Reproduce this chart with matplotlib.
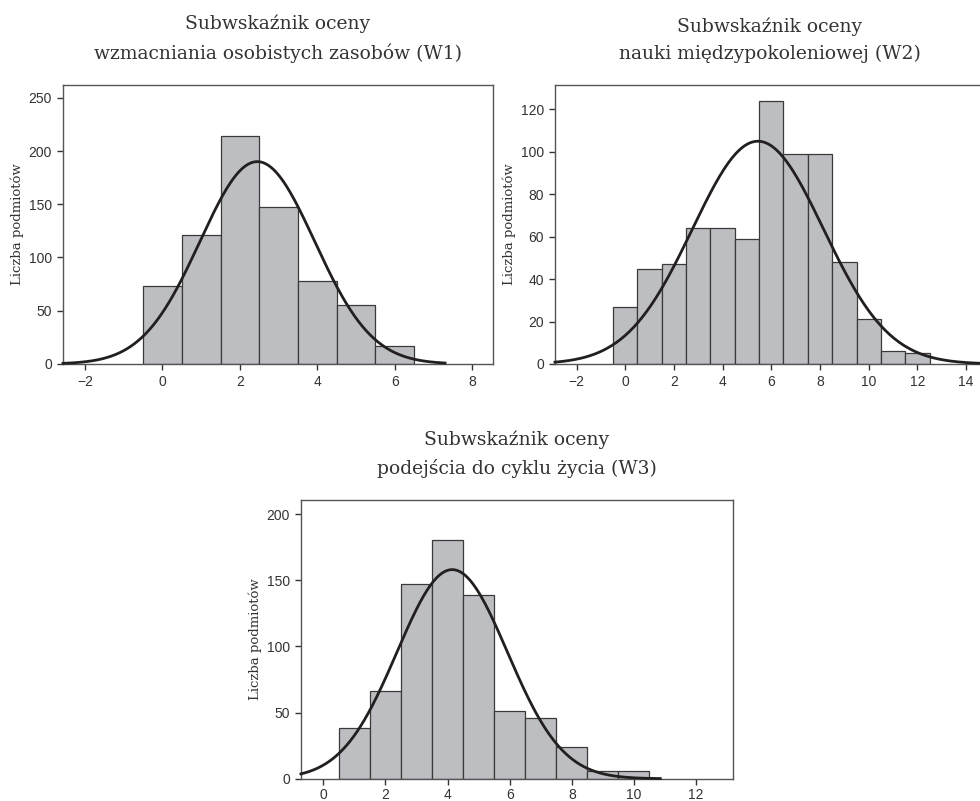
import numpy as np
import matplotlib
matplotlib.use("Agg")
import matplotlib.pyplot as plt

# histogram counts (bin width 1, centred on integers)
w1_bins = [0, 1, 2, 3, 4, 5, 6]
w1_counts = [73, 121, 214, 147, 78, 55, 17]
w2_bins = [0, 1, 2, 3, 4, 5, 6, 7, 8, 9, 10, 11, 12]
w2_counts = [27, 45, 47, 64, 64, 59, 124, 99, 99, 48, 21, 6, 5]
w3_bins = [1, 2, 3, 4, 5, 6, 7, 8, 9, 10]
w3_counts = [38, 66, 147, 180, 139, 51, 46, 24, 6, 6]

# fitted normal curves: mean, sd, end of drawn curve
w1_fit = (2.45, 1.48, 7.3)
w2_fit = (5.45, 2.69, 15.0)
w3_fit = (4.15, 1.775, 10.85)

titles = [
    "Subwskaźnik oceny\nwzmacniania osobistych zasobów (W1)",
    "Subwskaźnik oceny\nnauki międzypokoleniowej (W2)",
    "Subwskaźnik oceny\npodejścia do cyklu życia (W3)",
]
w1_xticks = [-2, 0, 2, 4, 6, 8]
w1_yticks = [0, 50, 100, 150, 200, 250]
w2_xticks = [-2, 0, 2, 4, 6, 8, 10, 12, 14]
w2_yticks = [0, 20, 40, 60, 80, 100, 120]
w3_xticks = [0, 2, 4, 6, 8, 10, 12]
w3_yticks = [0, 50, 100, 150, 200]

BAR = "#bdbec2"
EDGE = "#3a3a3a"
LINE = "#231f20"
SPINE = "#555555"

fig = plt.figure(figsize=(9.8, 8.01), dpi=100)


def draw(rect, bins, counts, fit, xlim, ylim, xticks, yticks, title, xpad=3.5):
    ax = fig.add_axes(rect)
    ax.bar(bins, counts, width=1.0, color=BAR, edgecolor=EDGE, linewidth=0.9, zorder=2)
    mean, sd, x_end = fit
    n = sum(counts)
    xs = np.linspace(xlim[0], x_end, 300)
    ys = n / (sd * np.sqrt(2 * np.pi)) * np.exp(-0.5 * ((xs - mean) / sd) ** 2)
    ax.plot(xs, ys, color=LINE, linewidth=2.0, zorder=3, clip_on=False)
    ax.set_xlim(*xlim)
    ax.set_ylim(*ylim)
    ax.set_xticks(xticks)
    ax.set_xticklabels(["\u2212%d" % -t if t < 0 else str(t) for t in xticks])
    ax.set_yticks(yticks)
    for s in ax.spines.values():
        s.set_color(SPINE)
        s.set_linewidth(1.0)
    ax.tick_params(axis="both", direction="out", length=4.5, width=1.0, color="#333333",
                   labelsize=10, labelcolor="#333333", pad=3.5)
    ax.tick_params(axis="x", pad=xpad)
    for lab in ax.get_xticklabels() + ax.get_yticklabels():
        lab.set_family("Liberation Sans")
    ax.set_ylabel("Liczba podmiotów", family="DejaVu Serif", fontsize=9.5, color="#333333",
                  labelpad=3)
    ax.set_title(title, family="DejaVu Serif", fontsize=13.5, color="#333333",
                 linespacing=1.62, pad=19)
    return ax


draw([0.0643, 0.5456, 0.4388, 0.3483], w1_bins, w1_counts, w1_fit,
     (-2.57, 8.54), (0, 262), w1_xticks, w1_yticks, titles[0])
draw([0.5663, 0.5456, 0.4388, 0.3483], w2_bins, w2_counts, w2_fit,
     (-2.89, 14.78), (0, 131.5), w2_xticks, w2_yticks, titles[1])
draw([0.3071, 0.0278, 0.4408, 0.3480], w3_bins, w3_counts, w3_fit,
     (-0.72, 13.19), (0, 210.6), w3_xticks, w3_yticks, titles[2], xpad=2.0)

fig.savefig("out.png", dpi=100)
